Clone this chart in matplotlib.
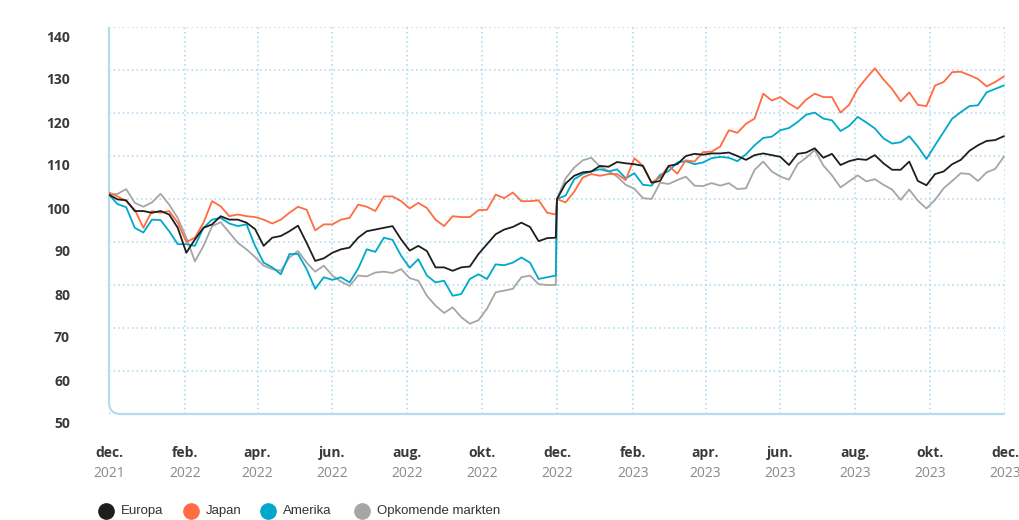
import matplotlib
matplotlib.use("Agg")
import matplotlib.pyplot as plt
import matplotlib.transforms as mtransforms
from matplotlib.lines import Line2D
from matplotlib.path import Path
from matplotlib.patches import PathPatch
import pandas as pd

# weekly index values, first year (dec 2021 - nov 2022), then rebased second year
dates_2022 = pd.date_range("2021-12-01", periods=53, freq="7D")
dates_2023 = pd.date_range("2022-12-01", periods=53, freq="7D")

europa_2022 = [101.0, 99.9, 99.7, 97.2, 97.2, 96.8, 97.2, 96.4, 93.3, 87.5, 90.6, 93.3, 94.1,
               96.0, 95.2, 95.2, 94.5, 93.0, 89.1, 91.0, 91.4, 92.5, 93.8, 89.8, 85.6, 86.2,
               87.5, 88.3, 88.7, 91.0, 92.5, 92.9, 93.3, 93.7, 90.6, 88.0, 89.1, 87.9, 84.1,
               84.1, 83.3, 84.1, 84.3, 87.2, 89.5, 91.8, 92.9, 93.5, 94.5, 93.5, 90.2, 90.9, 91.0]
japan_2022 = [101.5, 100.6, 99.5, 97.5, 93.3, 97.2, 96.8, 97.2, 94.5, 90.0, 91.0, 94.5, 99.5,
              98.3, 96.0, 96.4, 96.0, 95.8, 95.2, 94.3, 95.2, 96.8, 98.2, 97.5, 92.7, 94.1,
              94.1, 95.2, 95.6, 98.7, 98.2, 97.2, 100.6, 100.6, 99.5, 97.8, 99.1, 97.9, 95.2,
              93.7, 96.0, 95.8, 95.8, 97.4, 97.5, 101.0, 100.2, 101.5, 99.5, 99.5, 99.7, 96.8, 96.4]
amerika_2022 = [101.0, 98.8, 98.1, 93.3, 92.2, 95.2, 95.1, 92.5, 89.5, 89.5, 89.1, 93.3, 95.2,
                95.6, 94.3, 93.7, 94.1, 89.1, 85.2, 84.1, 82.5, 87.2, 87.2, 83.7, 79.1, 81.8,
                81.2, 81.8, 80.6, 83.8, 88.3, 87.7, 91.0, 90.5, 86.8, 84.0, 86.0, 82.2, 80.6,
                81.0, 77.5, 77.9, 81.4, 82.5, 81.4, 84.8, 84.6, 85.2, 86.4, 85.2, 81.4, 81.8, 82.2]
opkomend_2022 = [101.0, 101.2, 102.3, 99.1, 98.2, 99.2, 101.2, 98.7, 95.6, 91.0, 85.5, 89.1, 93.7,
                 94.6, 92.2, 89.8, 88.3, 86.5, 84.5, 83.7, 83.3, 86.4, 87.9, 85.2, 83.1, 84.5,
                 82.2, 80.8, 79.8, 82.2, 82.0, 82.9, 83.1, 82.8, 83.7, 81.6, 81.0, 77.5, 75.2,
                 73.5, 74.8, 72.5, 71.0, 71.8, 74.5, 78.3, 78.7, 79.1, 81.8, 82.2, 80.2, 80.0, 80.0]

europa_2023 = [100.0, 103.6, 105.4, 106.2, 106.4, 107.7, 107.5, 108.6, 108.3, 108.1, 107.7, 103.8,
               104.2, 107.7, 108.1, 110.0, 110.5, 110.3, 110.6, 110.6, 110.8, 110.0, 109.1, 110.2,
               110.6, 110.2, 109.8, 107.9, 110.5, 110.8, 111.8, 109.6, 110.5, 107.9, 108.8, 109.3,
               109.1, 110.2, 108.3, 106.8, 106.8, 108.7, 104.2, 103.2, 105.8, 106.4, 108.1, 109.1,
               111.2, 112.5, 113.5, 113.7, 114.6]
japan_2023 = [100.0, 99.2, 101.7, 105.0, 105.8, 105.4, 105.8, 105.8, 104.4, 109.5, 107.7, 103.8,
              105.0, 107.7, 105.9, 109.0, 108.7, 110.9, 111.0, 112.2, 116.0, 115.4, 117.5, 118.7,
              124.5, 122.9, 123.7, 122.2, 121.0, 123.1, 124.5, 123.7, 123.7, 120.1, 121.9, 125.6,
              128.1, 130.4, 127.8, 125.6, 122.7, 124.8, 121.9, 121.6, 126.4, 127.2, 129.5, 129.6,
              128.8, 127.9, 126.2, 127.2, 128.5]
amerika_2023 = [100.0, 100.8, 104.6, 105.8, 106.4, 106.9, 106.4, 106.9, 104.8, 106.0, 103.3, 103.1,
                105.6, 106.5, 108.5, 108.8, 108.1, 108.5, 109.5, 109.8, 109.6, 108.8, 110.4, 112.5,
                114.2, 114.5, 116.0, 116.5, 117.9, 119.6, 120.1, 118.7, 118.3, 115.8, 117.0, 119.1,
                117.8, 116.4, 114.1, 112.9, 113.2, 114.6, 112.2, 109.3, 112.5, 115.6, 118.7, 120.2,
                121.6, 121.8, 124.8, 125.6, 126.4]
opkomend_2023 = [100.0, 104.8, 107.3, 109.0, 109.6, 107.5, 106.5, 105.2, 103.3, 102.4, 100.2, 100.0,
                 103.8, 103.5, 104.4, 105.2, 103.1, 103.0, 103.7, 103.1, 103.7, 102.3, 102.5, 106.8,
                 108.7, 106.4, 105.2, 104.5, 108.1, 109.6, 111.4, 107.8, 105.5, 102.7, 104.1, 105.5,
                 104.1, 104.6, 103.3, 102.2, 99.8, 102.2, 99.6, 97.8, 99.8, 102.5, 104.2, 106.0,
                 105.8, 104.2, 106.2, 107.0, 109.8]

labels = ["Europa", "Japan", "Amerika", "Opkomende markten"]
colors = ["#1e1e1e", "#ff6c42", "#00a9c9", "#a6a6a6"]
tick_dates = pd.date_range("2021-12-01", "2023-12-01", freq="2MS")
month_names = ["dec.", "feb.", "apr.", "jun.", "aug.", "okt."]
y_ticks = [50, 60, 70, 80, 90, 100, 110, 120, 130, 140]

grid_col = "#a9d6ec"
spine_col = "#b4dced"

fig = plt.figure(figsize=(10.2, 5.2), dpi=100)
ax = fig.add_axes([109 / 1020, 106 / 520, 896 / 1020, 387 / 520])

dates = dates_2022.append(dates_2023)
series = [europa_2022 + europa_2023, japan_2022 + japan_2023,
          amerika_2022 + amerika_2023, opkomend_2022 + opkomend_2023]
order = [3, 2, 1, 0]
for i in order:
    ax.plot(dates, series[i], color=colors[i], lw=1.3, zorder=3 + (3 - i) * 0.1)

ax.set_xlim(tick_dates[0], tick_dates[-1])
ax.set_ylim(50, 140)
ax.set_xticks(tick_dates)
ax.set_xticklabels([])
ax.set_yticks(y_ticks)
ax.set_yticklabels([str(v) for v in y_ticks], fontsize=10, fontweight="bold",
                   color="#3a3a3a", family="Open Sans")
ax.tick_params(axis="both", length=0)
ax.tick_params(axis="y", pad=28)
offset = mtransforms.ScaledTranslation(0, -0.09, fig.dpi_scale_trans)
for lab in ax.get_yticklabels():
    lab.set_transform(lab.get_transform() + offset)

ax.grid(True, color=grid_col, linestyle=(0, (1, 2)), lw=1.1)
for s in ax.spines.values():
    s.set_visible(False)

# left + bottom frame with rounded corner
rx, ry = 12 / 896, 12 / 387
verts = [(0, 1), (0, ry), (0, 0), (rx, 0), (1, 0)]
codes = [Path.MOVETO, Path.LINETO, Path.CURVE3, Path.CURVE3, Path.LINETO]
ax.add_patch(PathPatch(Path(verts, codes), transform=ax.transAxes, fill=False,
                       edgecolor=spine_col, lw=1.6, clip_on=False, zorder=2))

trans = mtransforms.blended_transform_factory(ax.transData, ax.transAxes)
for d in tick_dates:
    m = month_names[(d.month % 12) // 2]
    ax.text(d, -0.101, m, transform=trans, ha="center", va="center", fontsize=10,
            fontweight="bold", color="#3a3a3a", family="Open Sans")
    ax.text(d, -0.153, str(d.year), transform=trans, ha="center", va="center",
            fontsize=10, color="#8a8a8a", family="Open Sans")

# legend along the bottom edge
leg_x = [106, 191, 268, 362]
leg_y = 1 - 511 / 520
for x, lab, c in zip(leg_x, labels, colors):
    fig.add_artist(Line2D([x / 1020], [leg_y], marker="o", markersize=11, color=c,
                          linestyle="", transform=fig.transFigure))
    fig.text((x + 15) / 1020, leg_y, lab, ha="left", va="center", fontsize=9.5,
             color="#333333", family="Liberation Sans")

fig.savefig("out.png", dpi=100)
